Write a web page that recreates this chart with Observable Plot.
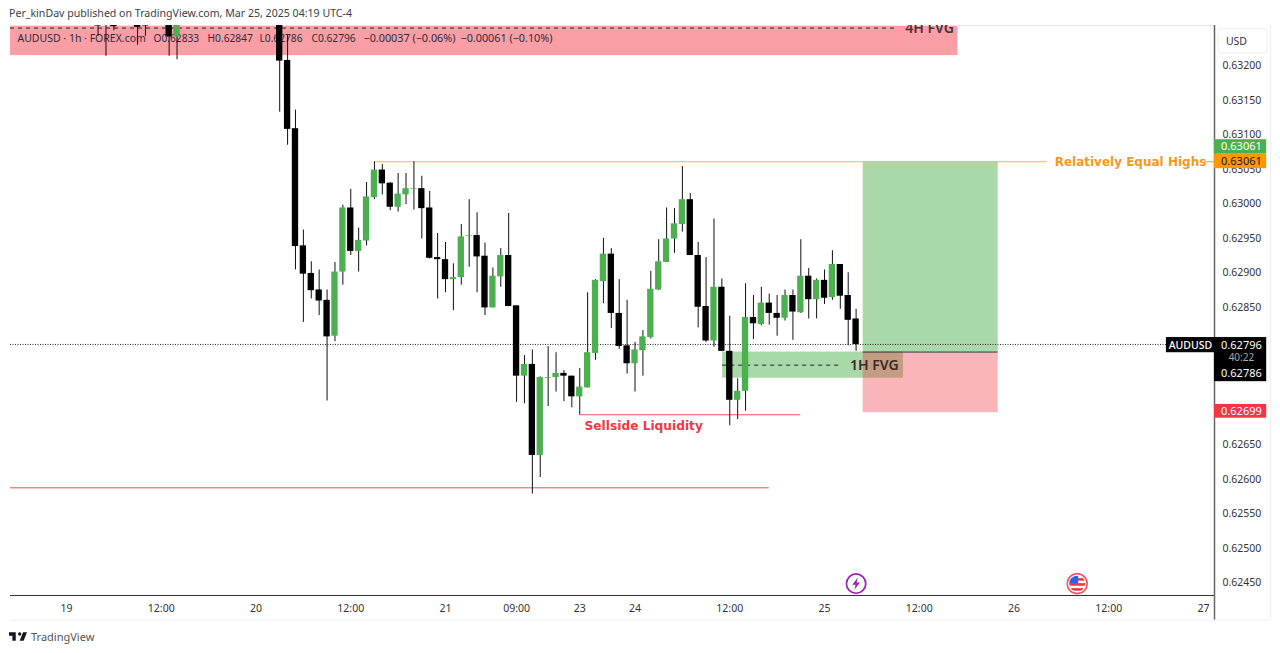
<!DOCTYPE html>
<html><head><meta charset="utf-8">
<script src="https://cdn.jsdelivr.net/npm/d3@7"></script>
<script src="https://cdn.jsdelivr.net/npm/@observablehq/plot@0.6"></script>
<style>
html,body{margin:0;padding:0;background:#fff;overflow:hidden}
body{width:1280px;height:653px;font-family:"Noto Sans",sans-serif;color:#333}
#head{height:25px;box-sizing:border-box;padding:6px 0 0 9px;font-size:10.6px;line-height:14px;color:#3a3e4a;white-space:nowrap}
#foot{height:28px;box-sizing:border-box;padding:0 0 0 9px;display:flex;align-items:center;font-size:11px;color:#555}
#foot svg{margin-right:4px}
svg.chart{display:block}
</style></head><body>
<div id="head">Per_kinDav published on TradingView.com, Mar 25, 2025 04:19 UTC-4</div>
<div id="chart"></div>
<div id="foot"><svg width="18" height="9" viewBox="2 6 32 15"><path fill="#131722" d="M14 6H2v6h6v9h6V6zm14 15h-7l6-15h7l-6 15zm-7-9a3 3 0 1 0 0-6 3 3 0 0 0 0 6z"/></svg>TradingView</div>
<script>
// Hourly bar number (0 = 19 Mar 00:00 on the compressed time axis)
const barIndex = [4,5,6,9,10,13,14,
  27,28,29,30,31,32,33,34,35,36,37,38,39,40,41,42,43,44,45,46,47,48,49,50,51,52,53,54,55,56,57,58,59,60,61,62,63,
  64,65,66,67,68,69,70,71,72,73,74,75,76,77,78,79,80,81,82,83,84,85,86,87,88,89,90,91,92,93,94,95,96,97,98,99,100];
// AUDUSD prices x 100000
const opens = [63290,63330,63280,63280,63290,63300,63242,
  63280,63208,63109,62939,62899,62875,62860,62808,62901,62994,62931,62946,63009,63049,63030,62995,63013,63021,63022,62994,62922,62919,62890,62893,62953,62954,62924,62849,62894,62925,62852,62750,62767,62635,62747,62748,62754,
  62750,62720,62733,62783,62887,62927,62841,62794,62768,62787,62806,62875,62915,62949,62970,63006,62925,62851,62801,62879,62786,62715,62728,62835,62825,62856,62841,62834,62867,62842,62895,62861,62889,62864,62912,62867,62833];
const highs = [63310,63340,63300,63300,63310,63320,63320,
  63295,63244,63136,62962,62916,62904,62875,62915,62998,63021,62965,63031,63061,63057,63031,63044,63044,63061,63040,63018,62957,62944,62913,62970,63006,62987,62943,62907,62935,62986,62852,62780,62788,62749,62793,62784,62758,
  62750,62761,62871,62890,62950,62935,62890,62860,62799,62816,62902,62948,62994,62993,63054,63015,62944,62922,62978,62891,62837,62746,62884,62867,62879,62869,62867,62875,62875,62948,62906,62891,62904,62932,62912,62900,62847];
const lows = [63243,63214,63251,63230,63243,63214,63209,
  63133,63085,62904,62828,62862,62838,62714,62800,62882,62925,62901,62939,63006,63013,62990,62988,62999,62991,62949,62920,62862,62871,62845,62882,62908,62871,62838,62849,62879,62851,62712,62710,62579,62603,62706,62727,62713,
  62704,62694,62733,62773,62855,62819,62789,62753,62727,62750,62804,62874,62915,62928,62959,62925,62820,62799,62792,62786,62678,62687,62699,62803,62823,62824,62808,62830,62802,62841,62833,62833,62854,62860,62847,62794,62786];
const closes = [63258,63300,63257,63256,63258,63242,63300,
  63207,63108,62938,62898,62874,62859,62807,62901,62994,62931,62947,63010,63049,63029,62995,63014,63022,63022,62993,62921,62919,62890,62893,62952,62954,62923,62849,62895,62925,62851,62750,62767,62635,62748,62748,62754,62750,
  62720,62734,62784,62889,62927,62841,62793,62768,62788,62807,62876,62916,62949,62971,63006,62925,62850,62801,62879,62786,62715,62728,62835,62826,62856,62841,62834,62867,62843,62895,62861,62889,62863,62912,62866,62831,62796];

const timeTickBars = [0,12,24,36,48,57,65,72,84,96,108,120,132,144];
const timeTickLabels = ["19","12:00","20","12:00","21","09:00","23","24","12:00","25","12:00","26","12:00","27"];
const priceTicks = [0.6245,0.625,0.6255,0.626,0.6265,0.6285,0.629,0.6295,0.63,0.6305,0.631,0.6315,0.632];

const P = v => v / 100000;
const candles = barIndex.map((b, k) => ({i: b, o: P(opens[k]), h: P(highs[k]), l: P(lows[k]), c: P(closes[k])}));

// Scale limits and annotation levels
const xLeft = -7.092, xRight = 145.39, xTagEnd = 152;
const yBottom = 0.624318, yTop = 0.632587;
const highsLevel = 0.63061, entry = 0.62785, stopLevel = 0.62697, sellside = 0.62694, lowLine = 0.62588;
const fvg4Low = 0.63215, fvg4High = 0.6328, fvg4Mid = 0.63255;
const fvg1High = 0.62785, fvg1Low = 0.62747, fvg1Mid = 0.62766, lastPrice = 0.62796;

const zones = [
  {x1: xLeft, x2: 112.9, y1: fvg4Low, y2: fvg4High, fill: "#fb9ea6", o: 1},
  {x1: 83.1, x2: 106, y1: fvg1Low, y2: fvg1High, fill: "#a9d8a9", o: 1}
];
const position = [
  {x1: 100.9, x2: 118, y1: entry, y2: highsLevel, fill: "#4caf50", o: 0.48},
  {x1: 100.9, x2: 118, y1: stopLevel, y2: entry, fill: "#f23645", o: 0.37}
];
const levels = [
  {x1: 39, x2: 124.2, y: 0.63061, stroke: "#f9b35a"},
  {x1: 144.2, x2: xRight, y: 0.63061, stroke: "#f7981d"},
  {x1: 65, x2: 93, y: sellside, stroke: "#e8505c"},
  {x1: xLeft, x2: 89, y: lowLine, stroke: "#d9555f"},
  {x1: 100.9, x2: 118, y: entry, stroke: "#333"}
];
const dashed = [
  {x1: xLeft, x2: 105, y: fvg4Mid},
  {x1: 83.1, x2: 98.2, y: fvg1Mid}
];
const legendBits = [
  {i: -6.21, t: "AUDUSD · 1h · FOREX.com", fs: 10.5}, {i: 11.02, t: "O0.62833", fs: 10.2}, {i: 17.86, t: "H0.62847", fs: 10.2},
  {i: 24.44, t: "L0.62786", fs: 10.2}, {i: 31.03, t: "C0.62796", fs: 10.2}, {i: 37.61, t: "−0.00037 (−0.06%)", fs: 10.8}, {i: 49.9, t: "−0.00061 (−0.10%)", fs: 10.8}
];
const tags = [
  {x1: xRight, x2: xTagEnd, y1: 0.63072, y2: 0.63093, fill: "#4caf50"},
  {x1: xRight, x2: xTagEnd, y1: 0.63051, y2: 0.63072, fill: "#ff9800"},
  {x1: 139.3, x2: xRight, y1: 0.62784, y2: 0.62806, fill: "#000"},
  {x1: xRight, x2: xTagEnd, y1: 0.62742, y2: 0.62806, fill: "#000"},
  {x1: xRight, x2: xTagEnd, y1: 0.62689, y2: 0.62709, fill: "#f23645"}
];
const tagTexts = [
  {y: 0.63083, t: "0.63061", fill: "#fff", fw: 400, fs: 11},
  {y: 0.63061, t: "0.63061", fill: "#131722", fw: 400, fs: 11},
  {y: 0.62795, t: "0.62796", fill: "#fff", fw: 400, fs: 11},
  {y: 0.62777, t: "40:22", fill: "#aaa", fw: 400, fs: 10},
  {y: 0.62754, t: "0.62786", fill: "#fff", fw: 400, fs: 11},
  {y: 0.62699, t: "0.62699", fill: "#fff", fw: 400, fs: 11}
];
const boltIcon = "data:image/svg+xml," + encodeURIComponent('<svg xmlns="http://www.w3.org/2000/svg" viewBox="0 0 20 20"><circle cx="10" cy="10" r="8.8" fill="#fff" stroke="#9c27b0" stroke-width="1.6"/><path d="M11.5 4.5L6.5 11h3l-1 4.5 5-6.5h-3z" fill="#9c27b0"/></svg>');
const flagIcon = "data:image/svg+xml," + encodeURIComponent('<svg xmlns="http://www.w3.org/2000/svg" viewBox="0 0 22 22"><defs><clipPath id="c"><circle cx="11" cy="11" r="8"/></clipPath></defs><circle cx="11" cy="11" r="10" fill="#fff" stroke="#f7525f" stroke-width="1.6"/><g clip-path="url(#c)"><rect x="2" y="3" width="18" height="16" fill="#fff"/><rect x="2" y="10.5" width="18" height="2.6" fill="#f23645"/><rect x="2" y="15.5" width="18" height="2.6" fill="#f23645"/><rect x="2" y="5.5" width="18" height="2.6" fill="#f23645"/><rect x="3" y="3" width="9" height="8" fill="#2962ff"/></g></svg>');

const chart = Plot.plot({
  width: 1280, height: 597,
  marginLeft: 10, marginRight: 66, marginTop: 0, marginBottom: 27,
  className: "chart",
  style: {fontFamily: '"Noto Sans",sans-serif', background: "#fff", overflow: "hidden"},
  x: {type: "linear", domain: [xLeft, xRight]},
  y: {type: "linear", domain: [yBottom, yTop]},
  marks: [
    Plot.rect(zones, {x1: "x1", x2: "x2", y1: "y1", y2: "y2", fill: "fill", fillOpacity: "o", clip: true}),
    Plot.rect(position, {x1: "x1", x2: "x2", y1: "y1", y2: "y2", fill: "fill", fillOpacity: "o"}),
    Plot.ruleY([yTop], {stroke: "#e6e6e6"}),
    Plot.ruleY(dashed, {x1: "x1", x2: "x2", y: "y", stroke: "#222", strokeDasharray: "4 4", clip: true}),
    Plot.ruleY([lastPrice], {x1: xLeft, x2: 139.3, stroke: "#222", strokeDasharray: "1 1.5"}),
    Plot.ruleY(levels, {x1: "x1", x2: "x2", y: "y", stroke: "stroke"}),
    Plot.text(legendBits, {x: "i", y: 0.6324, text: "t", textAnchor: "start", fontSize: "fs", fill: "#2a2e39", clip: true}),
    Plot.ruleX(candles, {x: "i", y1: "l", y2: "h", stroke: "#111", strokeWidth: 1, clip: true}),
    Plot.rect(candles, {
      x1: d => d.i - 0.4, x2: d => d.i + 0.4,
      y1: "o", y2: "c",
      fill: d => d.c >= d.o ? "#4caf50" : "#000",
      clip: true
    }),
    Plot.text(["4H FVG"], {x: 109.3, y: 0.63254, text: d => d, fontSize: 14, fontWeight: 600, fill: "#3a3a3a", clip: true}),
    Plot.text(["1H FVG"], {x: 102.3, y: fvg1Mid, text: d => d, fontSize: 14, fontWeight: 600, fill: "#3a2a22"}),
    Plot.text(["Relatively Equal Highs"], {x: 134.75, y: highsLevel, text: d => d, fontFamily: "DejaVu Sans", fontSize: 12, fontWeight: 700, fill: "#f7981d"}),
    Plot.text(["Sellside Liquidity"], {x: 73.1, y: 0.62677, text: d => d, fontFamily: "DejaVu Sans", fontSize: 12.2, fontWeight: 700, fill: "#f23645"}),
    Plot.image([{i: 100, y: 0.62449, s: boltIcon}, {i: 128, y: 0.62449, s: flagIcon}], {x: "i", y: "y", src: "s", width: 22, height: 22}),
    Plot.ruleY([yBottom], {x1: xLeft, x2: xRight, stroke: "#333"}),
    Plot.axisX({ticks: timeTickBars, tickFormat: v => timeTickLabels[timeTickBars.indexOf(v)], tickSize: 0, tickPadding: 9, fontSize: 10.5, fill: "#333", label: null}),
    Plot.axisY({anchor: "right", ticks: priceTicks, tickFormat: d3.format(".5f"), tickSize: 0, tickPadding: 8, fontSize: 10.5, fill: "#333", label: null}),
    Plot.ruleX([xRight], {y1: yTop, y2: 0.62396, stroke: "#666", strokeWidth: 1.5}),
    Plot.ruleY([0.62396], {x1: xLeft, x2: 152.5, stroke: "#eeeeee"}),
    Plot.ruleX([152.5], {y1: yTop, y2: 0.62396, stroke: "#eeeeee"}),
    Plot.rect([{}], {x1: 145.9, x2: 152.1, y1: 0.63218, y2: 0.63254, fill: "#fff", stroke: "#eee", rx: 3}),
    Plot.text(["USD"], {x: 148.17, y: 0.63236, text: d => d, fontSize: 10.5, fill: "#333"}),
    Plot.rect(tags, {x1: "x1", x2: "x2", y1: "y1", y2: "y2", fill: "fill"}),
    Plot.text(["AUDUSD"], {x: 142.35, y: 0.62795, text: d => d, fontSize: 10.5, fontWeight: 500, fill: "#fff"}),
    Plot.text(tagTexts, {x: 148.8, y: "y", text: "t", fill: "fill", fontSize: "fs", fontWeight: "fw"})
  ]
});
document.getElementById("chart").append(chart);
</script>
</body></html>
